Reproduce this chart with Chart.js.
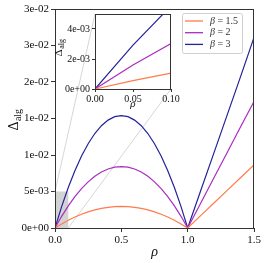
<!DOCTYPE html>
<html>
<head>
<script src="https://cdn.jsdelivr.net/npm/chart.js@4"></script>
<style>
  body { margin: 0; background: #fff; }
  #wrap { position: relative; width: 266px; height: 263px; }
  #main { position: absolute; left: 0; top: 0; }
  #inset { position: absolute; left: 50px; top: 0; }
</style>
</head>
<body>
<div id="wrap">
  <canvas id="main" width="266" height="263"></canvas>
  <canvas id="inset" width="132" height="112"></canvas>
</div>
<script>
// values
const rho = [0, 0.05, 0.1, 0.15, 0.2, 0.25, 0.3, 0.35, 0.4, 0.45, 0.5, 0.55, 0.6, 0.65, 0.7, 0.75, 0.8, 0.85, 0.9, 0.95, 1.0, 1.1, 1.2, 1.3, 1.4, 1.5];
const betas = ['1.5', '2', '3'];
const delta15 = [0, 0.00056, 0.00106, 0.0015, 0.00189, 0.00221, 0.00248, 0.00268, 0.00283, 0.00292, 0.00295, 0.00292, 0.00283, 0.00268, 0.00248, 0.00221, 0.00189, 0.0015, 0.00106, 0.00056, 0, 0.00173, 0.00346, 0.00519, 0.00692, 0.00865];
const delta2 = [0, 0.0016, 0.00303, 0.0043, 0.00539, 0.00632, 0.00708, 0.00767, 0.00809, 0.00834, 0.00842, 0.00834, 0.00809, 0.00767, 0.00708, 0.00632, 0.00539, 0.0043, 0.00303, 0.0016, 0, 0.00347, 0.00694, 0.0104, 0.0139, 0.01734];
const delta3 = [0, 0.00293, 0.00554, 0.00785, 0.00986, 0.01155, 0.01294, 0.01401, 0.01478, 0.01525, 0.0154, 0.01525, 0.01478, 0.01401, 0.01294, 0.01155, 0.00986, 0.00785, 0.00554, 0.00293, 0, 0.0052, 0.0104, 0.0156, 0.0208, 0.0261];
const yTickLabels = ['0e+00', '5e-03', '1e-02', '1e-02', '2e-02', '3e-02', '3e-02'];
const insetYTickLabels = ['0e+00', '2e-03', '4e-03'];
const zoomBox = { x0: 0, x1: 0.1, y0: 0, y1: 0.005 };

const colors = ['#ff7b4c', '#aa2dbf', '#23239a'];
const serif = 'Liberation Serif';
const INSET_LEFT = 50, INSET_TOP = 0;

function makeDatasets() {
  return [delta15, delta2, delta3].map((d, k) => ({
    label: 'β = ' + betas[k],
    data: rho.map((r, i) => ({ x: r, y: d[i] })),
    borderColor: colors[k],
    borderWidth: 1.2,
    pointRadius: 0,
    tension: 0,
    fill: false
  }));
}

function drawDelta(ctx, x, y, size) {
  ctx.save();
  ctx.translate(x, y);
  ctx.rotate(-Math.PI / 2);
  ctx.fillStyle = '#111';
  ctx.textBaseline = 'middle';
  ctx.font = size + 'px "' + serif + '"';
  const w1 = ctx.measureText('Δ').width;
  ctx.font = Math.round(size * 0.7) + 'px "' + serif + '"';
  const w2 = ctx.measureText('alg').width;
  let sx = -(w1 + w2) / 2;
  ctx.font = size + 'px "' + serif + '"';
  ctx.fillText('Δ', sx, 0);
  ctx.font = Math.round(size * 0.7) + 'px "' + serif + '"';
  ctx.fillText('alg', sx + w1 + 0.5, size * 0.28);
  ctx.restore();
}

function drawRho(ctx, x, y, size) {
  ctx.save();
  ctx.fillStyle = '#111';
  ctx.textAlign = 'center';
  ctx.textBaseline = 'middle';
  ctx.font = 'italic ' + size + 'px "' + serif + '"';
  ctx.fillText('ρ', x, y);
  ctx.restore();
}

const decor = {
  id: 'decor',
  beforeDatasetsDraw(chart, args, opts) {
    const ctx = chart.ctx, a = chart.chartArea;
    if (opts.whiteArea) {
      ctx.save();
      ctx.fillStyle = '#fff';
      ctx.fillRect(a.left, a.top, a.right - a.left, a.bottom - a.top);
      ctx.restore();
    }
    if (opts.zoom && insetChart) {
      const xs = chart.scales.x, ys = chart.scales.y;
      const bx0 = xs.getPixelForValue(zoomBox.x0), bx1 = xs.getPixelForValue(zoomBox.x1);
      const by0 = ys.getPixelForValue(zoomBox.y0), by1 = ys.getPixelForValue(zoomBox.y1);
      const ia = insetChart.chartArea;
      ctx.save();
      ctx.fillStyle = '#d3d3d3';
      ctx.fillRect(bx0, by1, bx1 - bx0, by0 - by1);
      ctx.strokeStyle = '#d6d6d6';
      ctx.lineWidth = 1;
      ctx.beginPath();
      ctx.moveTo(bx0, by1);
      ctx.lineTo(INSET_LEFT + ia.left, INSET_TOP + ia.top);
      ctx.moveTo(bx1, by0);
      ctx.lineTo(INSET_LEFT + ia.right, INSET_TOP + ia.bottom);
      ctx.stroke();
      ctx.restore();
    }
  },
  afterDraw(chart, args, opts) {
    const ctx = chart.ctx, a = chart.chartArea;
    ctx.save();
    ctx.strokeStyle = '#333';
    ctx.lineWidth = 1;
    ctx.strokeRect(Math.round(a.left) + 0.5, Math.round(a.top) + 0.5,
      Math.round(a.right - a.left) - 1, Math.round(a.bottom - a.top));
    ctx.restore();
    const cx = (a.left + a.right) / 2;
    drawDelta(ctx, opts.ylabelX, opts.ylabelY, opts.labelSize);
    drawRho(ctx, cx, opts.xlabelY, opts.labelSize);
    if (opts.legend) {
      const lg = opts.legend;
      ctx.save();
      ctx.fillStyle = 'rgba(255,255,255,0.85)';
      ctx.strokeStyle = '#d0d0d0';
      ctx.lineWidth = 1;
      ctx.beginPath();
      ctx.roundRect(lg.x + 0.5, lg.y + 0.5, lg.w, lg.h, 2);
      ctx.fill();
      ctx.stroke();
      chart.data.datasets.forEach((ds, k) => {
        const yy = lg.y + lg.first + k * lg.step;
        ctx.strokeStyle = ds.borderColor;
        ctx.lineWidth = 1.3;
        ctx.beginPath();
        ctx.moveTo(lg.x + 3, yy);
        ctx.lineTo(lg.x + 21, yy);
        ctx.stroke();
        ctx.fillStyle = '#333';
        ctx.textBaseline = 'middle';
        ctx.font = 'italic 10px "' + serif + '"';
        ctx.fillText('β', lg.x + 28, yy);
        const wb = ctx.measureText('β').width;
        ctx.font = '10px "' + serif + '"';
        ctx.fillText(' = ' + betas[k], lg.x + 28 + wb, yy);
      });
      ctx.restore();
    }
  }
};

let insetChart = null;

insetChart = new Chart(document.getElementById('inset'), {
  type: 'line',
  data: { datasets: makeDatasets() },
  plugins: [decor],
  options: {
    responsive: false,
    animation: false,
    layout: { padding: { left: 0, right: 11, top: 14, bottom: 0 } },
    plugins: {
      legend: { display: false },
      tooltip: { enabled: false },
      decor: { whiteArea: true, ylabelX: 9, ylabelY: 48, xlabelY: 104, labelSize: 11 }
    },
    scales: {
      x: {
        type: 'linear', min: zoomBox.x0, max: zoomBox.x1,
        grid: { drawOnChartArea: false, tickLength: 3, color: '#333' },
        border: { color: '#333' },
        ticks: { stepSize: 0.05, maxRotation: 0, padding: 1, color: '#111',
          font: { family: serif, size: 10 },
          callback: v => v.toFixed(2) },
        afterFit(s) { s.height = 23; }
      },
      y: {
        type: 'linear', min: zoomBox.y0, max: zoomBox.y1,
        grid: { drawOnChartArea: false, tickLength: 3, color: '#333' },
        border: { color: '#333' },
        ticks: { stepSize: 0.002, includeBounds: false, padding: 2, color: '#111',
          font: { family: serif, size: 10 },
          callback: v => insetYTickLabels[Math.round(v / 0.002)] },
        afterFit(s) { s.width = 45; }
      }
    }
  }
});

const mainChart = new Chart(document.getElementById('main'), {
  type: 'line',
  data: { datasets: makeDatasets() },
  plugins: [decor],
  options: {
    responsive: false,
    animation: false,
    layout: { padding: { left: 0, right: 12, top: 9, bottom: 0 } },
    plugins: {
      legend: { display: false },
      tooltip: { enabled: false },
      decor: {
        zoom: true, ylabelX: 14, ylabelY: 120, xlabelY: 252, labelSize: 14,
        legend: { x: 182, y: 13, w: 60, h: 40, first: 8, step: 11.7 }
      }
    },
    scales: {
      x: {
        type: 'linear', min: 0, max: 1.5,
        grid: { drawOnChartArea: false, tickLength: 4, color: '#333' },
        border: { color: '#333' },
        ticks: { stepSize: 0.5, maxRotation: 0, padding: 2, color: '#111',
          font: { family: serif, size: 11 },
          callback: v => v.toFixed(1) },
        afterFit(s) { s.height = 35; }
      },
      y: {
        type: 'linear', min: 0, max: 0.03,
        grid: { drawOnChartArea: false, tickLength: 4, color: '#333' },
        border: { color: '#333' },
        ticks: { stepSize: 0.005, padding: 2, color: '#111',
          font: { family: serif, size: 11 },
          callback: v => yTickLabels[Math.round(v / 0.005)] },
        afterFit(s) { s.width = 55; }
      }
    }
  }
});
</script>
</body>
</html>
